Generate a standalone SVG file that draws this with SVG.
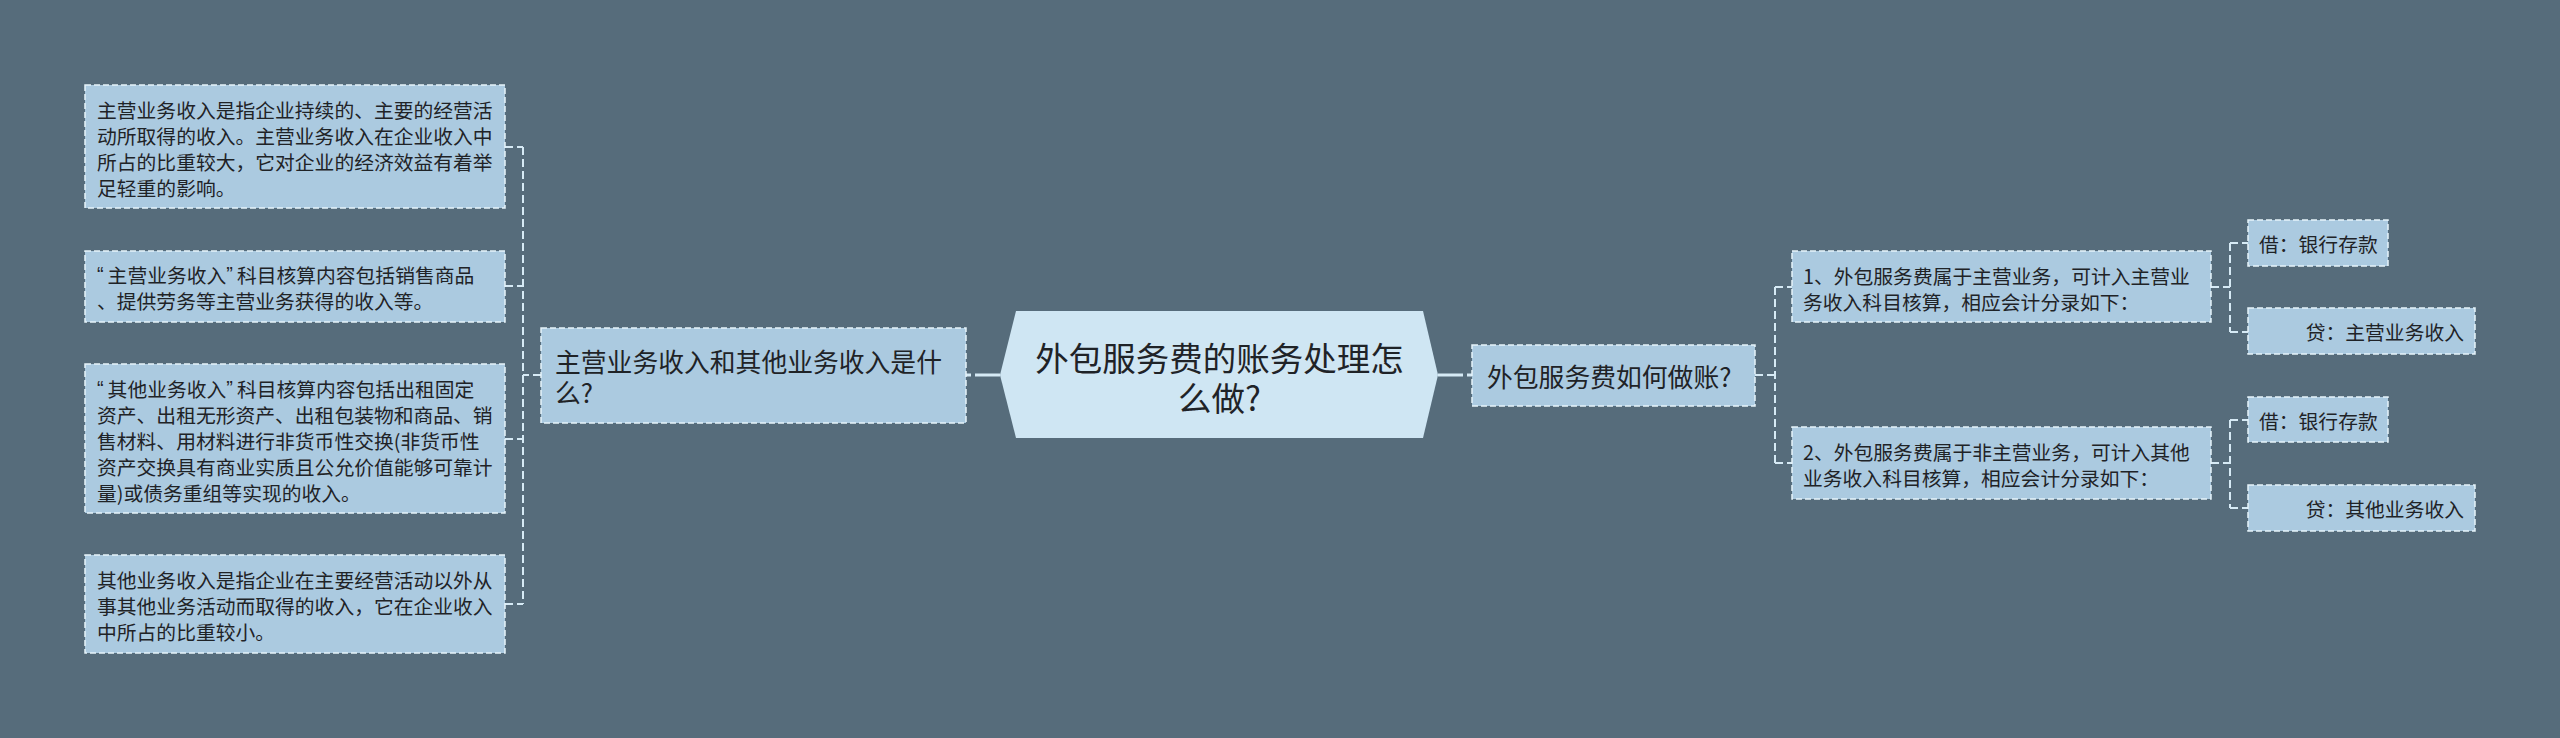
<svg xmlns="http://www.w3.org/2000/svg" width="2560" height="738" viewBox="0 0 2560 738">
<style>
.bg{fill:#566c7b}
.box{fill:#abcae0;stroke:#e6f3fa;stroke-width:1.5;stroke-dasharray:6 3}
.center{fill:#cfe6f3}
.t{font-family:"Noto Sans CJK SC","Noto Sans",sans-serif;fill:#1f2327;dominant-baseline:central}
.s{font-size:19.8px}
.m{font-size:25.8px}
.l{font-size:33.5px}
.q{font-family:"Liberation Sans","Noto Sans CJK SC",sans-serif;letter-spacing:4px}
.c{fill:none;stroke:#d6eaf5;stroke-width:2;stroke-dasharray:8 4}
.cm{fill:none;stroke:#d6eaf5;stroke-width:3;stroke-dasharray:25 4 5 4}
</style>
<rect class="bg" x="0" y="0" width="2560" height="738"/>
<g id="connectors">
<path class="cm" d="M1000 375 H966"/>
<path class="cm" d="M1438 375 H1472"/>
<path class="c" d="M541 375 H523 M523 147 V604 M505 147 H523 M505 286 H523 M505 439 H523 M505 604 H523"/>
<path class="c" d="M1755 375 H1775 M1775 287 V463 M1775 287 H1792 M1775 463 H1792"/>
<path class="c" d="M2211 287 H2230 M2230 243 V332 M2230 243 H2248 M2230 332 H2248"/>
<path class="c" d="M2211 463 H2230 M2230 420 V508 M2230 420 H2248 M2230 508 H2248"/>
</g>
<g id="root">
<polygon class="center" points="1016,311 1423,311 1438,375 1423,438 1016,438 1000,375"/>
<text class="t l" text-anchor="middle"><tspan x="1219.5" y="356">外包服务费的账务处理怎</tspan><tspan x="1219.5" y="396">么做?</tspan></text>
</g>
<g id="n-left">
<rect class="box" x="541" y="328" width="425" height="95"/>
<text class="t m"><tspan x="555" y="360">主营业务收入和其他业务收入是什</tspan><tspan x="555" y="391">么?</tspan></text>
</g>
<g id="l1">
<rect class="box" x="85" y="85" width="420" height="123"/>
<text class="t s"><tspan x="97" y="109">主营业务收入是指企业持续的、主要的经营活</tspan><tspan x="97" y="135">动所取得的收入。主营业务收入在企业收入中</tspan><tspan x="97" y="161">所占的比重较大，它对企业的经济效益有着举</tspan><tspan x="97" y="187">足轻重的影响。</tspan></text>
</g>
<g id="l2">
<rect class="box" x="85" y="251" width="420" height="71"/>
<text class="t s"><tspan x="97" y="274"><tspan class="q">“</tspan>主营业务收入<tspan class="q">”</tspan>科目核算内容包括销售商品</tspan><tspan x="97" y="300">、提供劳务等主营业务获得的收入等。</tspan></text>
</g>
<g id="l3">
<rect class="box" x="85" y="364" width="420" height="149"/>
<text class="t s"><tspan x="97" y="388"><tspan class="q">“</tspan>其他业务收入<tspan class="q">”</tspan>科目核算内容包括出租固定</tspan><tspan x="97" y="414">资产、出租无形资产、出租包装物和商品、销</tspan><tspan x="97" y="440">售材料、用材料进行非货币性交换(非货币性</tspan><tspan x="97" y="466">资产交换具有商业实质且公允价值能够可靠计</tspan><tspan x="97" y="492">量)或债务重组等实现的收入。</tspan></text>
</g>
<g id="l4">
<rect class="box" x="85" y="555" width="420" height="98"/>
<text class="t s"><tspan x="97" y="579">其他业务收入是指企业在主要经营活动以外从</tspan><tspan x="97" y="605">事其他业务活动而取得的收入，它在企业收入</tspan><tspan x="97" y="631">中所占的比重较小。</tspan></text>
</g>
<g id="n-right">
<rect class="box" x="1472" y="345" width="283" height="61"/>
<text class="t m" x="1487" y="375">外包服务费如何做账?</text>
</g>
<g id="r1">
<rect class="box" x="1792" y="251" width="419" height="71"/>
<text class="t s"><tspan x="1803" y="275">1、外包服务费属于主营业务，可计入主营业</tspan><tspan x="1803" y="301">务收入科目核算，相应会计分录如下：</tspan></text>
</g>
<g id="r2">
<rect class="box" x="1792" y="427" width="419" height="72"/>
<text class="t s"><tspan x="1803" y="451">2、外包服务费属于非主营业务，可计入其他</tspan><tspan x="1803" y="477">业务收入科目核算，相应会计分录如下：</tspan></text>
</g>
<g id="r1a">
<rect class="box" x="2248" y="220" width="140" height="46"/>
<text class="t s" x="2259" y="243">借：银行存款</text>
</g>
<g id="r1b">
<rect class="box" x="2248" y="308" width="227" height="46"/>
<text class="t s" x="2464" y="331" text-anchor="end">贷：主营业务收入</text>
</g>
<g id="r2a">
<rect class="box" x="2248" y="397" width="140" height="45"/>
<text class="t s" x="2259" y="420">借：银行存款</text>
</g>
<g id="r2b">
<rect class="box" x="2248" y="485" width="227" height="46"/>
<text class="t s" x="2464" y="508" text-anchor="end">贷：其他业务收入</text>
</g>
</svg>
